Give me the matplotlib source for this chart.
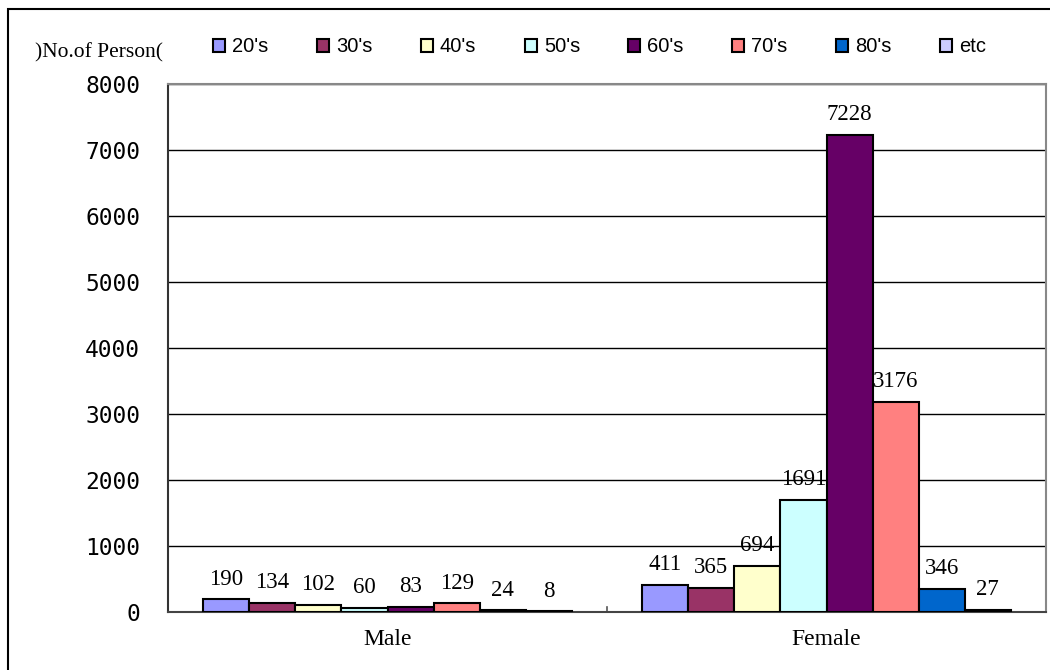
import numpy as np
import matplotlib
matplotlib.use("Agg")
import matplotlib.pyplot as plt
from matplotlib.patches import Rectangle

# Data
groups = ["Male", "Female"]
ages = ["20's", "30's", "40's", "50's", "60's", "70's", "80's", "etc"]
male = [190, 134, 102, 60, 83, 129, 24, 8]
female = [411, 365, 694, 1691, 7228, 3176, 346, 27]
colors = ["#9999FF", "#993366", "#FFFFCC", "#CCFFFF",
          "#660066", "#FF8080", "#0066CC", "#CCCCFF"]

fig = plt.figure(figsize=(10.5, 6.7), dpi=100)
ax = fig.add_axes([168 / 1050, 1 - 612 / 670, (1046 - 168) / 1050, (612 - 84) / 670])

x = np.arange(len(groups))
w = 0.84 / len(ages)
for i, age in enumerate(ages):
    vals = [male[i], female[i]]
    pos = x - 0.42 + w * (i + 0.5)
    ax.bar(pos, vals, width=w, color=colors[i], edgecolor="black",
           linewidth=1.5, label=age, zorder=3)
    for p, v in zip(pos, vals):
        ax.text(p, v + 150, str(v), ha="center", va="bottom",
                fontsize=16.5, family="Liberation Serif", zorder=4)

ax.set_xlim(-0.5, 1.5)
ax.set_ylim(0, 8000)
ax.set_yticks(range(0, 8001, 1000))
ax.set_xticks(x)
ax.set_xticklabels(groups, family="Liberation Serif", fontsize=17)
ax.tick_params(axis="x", length=0, pad=12)
ax.tick_params(axis="y", length=0, pad=20, labelsize=16.5)
for lab in ax.get_yticklabels():
    lab.set_family("DejaVu Sans Mono")
ax.grid(axis="y", color="black", linewidth=1, zorder=0)
# small divider tick between categories
ax.plot([0.5, 0.5], [0, 70], color="#555555", linewidth=1.2, zorder=2, clip_on=False)

ax.spines["left"].set_color("#333333")
ax.spines["bottom"].set_color("#444444")
ax.spines["top"].set_color("#888888")
ax.spines["right"].set_color("#888888")
for s in ax.spines.values():
    s.set_linewidth(1.5)

fig.legend(loc="center", bbox_to_anchor=(0.571, 1 - 47 / 670), ncol=8,
           frameon=False, prop={"family": "Liberation Sans", "size": 14.5},
           handlelength=0.6, handleheight=0.6, handletextpad=0.35,
           columnspacing=2.4)

fig.text(35 / 1050, 1 - 53 / 670, ")No.of Person(", family="Liberation Serif",
         fontsize=15.5, va="center", ha="left")

# outer frame
fig.patches.append(Rectangle((8 / 1050, -0.1), 1.2, 1.1 - 9 / 670,
                             transform=fig.transFigure, fill=False,
                             edgecolor="black", linewidth=1.5))

fig.savefig("out.png", dpi=100)
